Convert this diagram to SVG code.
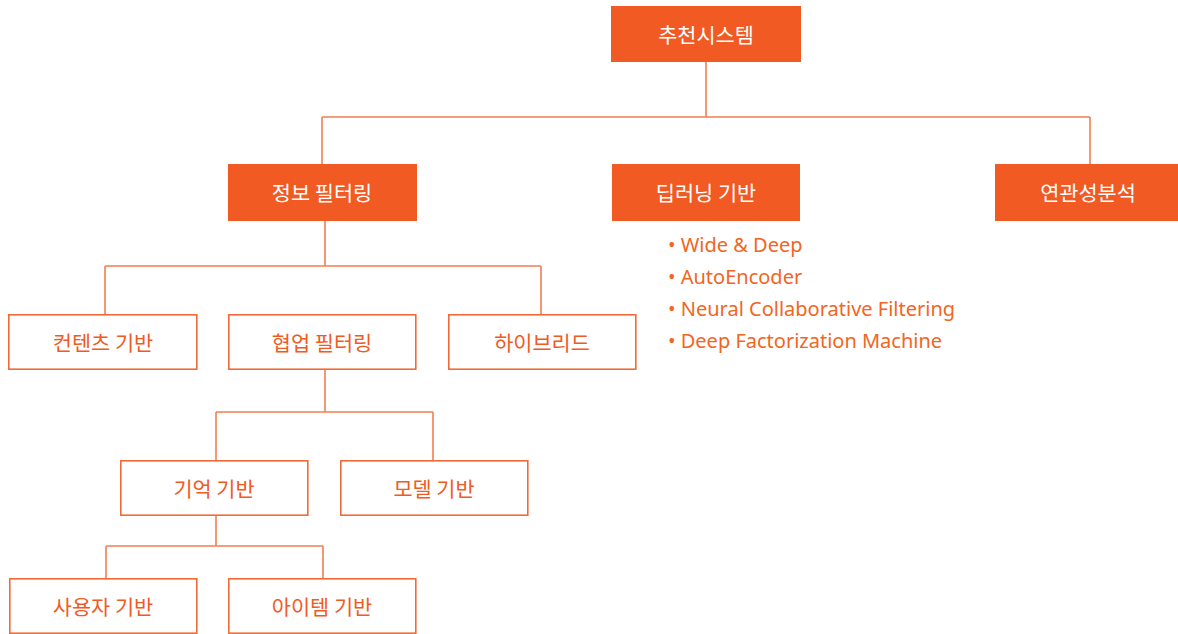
<svg xmlns="http://www.w3.org/2000/svg" width="1178" height="634" viewBox="0 0 1178 634">
  <style>
    .solid { fill: #F15A22; }
    .outline { fill: #FFFFFF; stroke: #F26A35; stroke-width: 1.6; }
    .lbl { font-family: "Noto Sans CJK KR", "Noto Sans", sans-serif; font-size: 20.8px; text-anchor: middle; dominant-baseline: central; }
    .w { fill: #FFFFFF; }
    .o { fill: #F15A22; }
    .conn { fill: none; stroke: #F47E52; stroke-width: 1.6; }
    .bul { font-family: "Noto Sans", "Liberation Sans", sans-serif; font-size: 20px; fill: #F26522; }
  </style>
  <rect width="1178" height="634" fill="#FFFFFF"/>

  <g id="connectors">
    <path class="conn" d="M706 62 V117 M322 117 H1090 M322 117 V164 M1090 117 V164"/>
    <path class="conn" d="M325 221 V266 M105 266 H541 M105 266 V314 M541 266 V314"/>
    <path class="conn" d="M325 369 V412 M216 412 H433 M216 412 V460 M433 412 V460"/>
    <path class="conn" d="M216 516 V546 M106 546 H323 M106 546 V578 M323 546 V578"/>
  </g>

  <g id="root">
    <rect class="solid" x="611" y="6" width="190" height="56"/>
    <text class="lbl w" x="706" y="34">추천시스템</text>
  </g>
  <g id="info-filtering">
    <rect class="solid" x="228" y="164" width="189" height="57"/>
    <text class="lbl w" x="322" y="192">정보 필터링</text>
  </g>
  <g id="deep-learning">
    <rect class="solid" x="612" y="164" width="188" height="57"/>
    <text class="lbl w" x="706" y="192">딥러닝 기반</text>
    <text class="bul" x="668" y="252">• Wide &amp; Deep</text>
    <text class="bul" x="668" y="284">• AutoEncoder</text>
    <text class="bul" x="668" y="316">• Neural Collaborative Filtering</text>
    <text class="bul" x="668" y="348">• Deep Factorization Machine</text>
  </g>
  <g id="association">
    <rect class="solid" x="995" y="164" width="183" height="57"/>
    <text class="lbl w" x="1088" y="192">연관성분석</text>
  </g>
  <g id="content-based">
    <rect class="outline" x="8.8" y="314.8" width="188" height="54.4"/>
    <text class="lbl o" x="103" y="342">컨텐츠 기반</text>
  </g>
  <g id="collaborative">
    <rect class="outline" x="228.8" y="314.8" width="187" height="54.4"/>
    <text class="lbl o" x="322" y="342">협업 필터링</text>
  </g>
  <g id="hybrid">
    <rect class="outline" x="448.8" y="314.8" width="187" height="54.4"/>
    <text class="lbl o" x="542" y="342">하이브리드</text>
  </g>
  <g id="memory-based">
    <rect class="outline" x="120.8" y="460.8" width="187" height="54.4"/>
    <text class="lbl o" x="214" y="488">기억 기반</text>
  </g>
  <g id="model-based">
    <rect class="outline" x="340.8" y="460.8" width="187" height="54.4"/>
    <text class="lbl o" x="434" y="488">모델 기반</text>
  </g>
  <g id="user-based">
    <rect class="outline" x="9.8" y="578.8" width="187" height="54.4"/>
    <text class="lbl o" x="103" y="606">사용자 기반</text>
  </g>
  <g id="item-based">
    <rect class="outline" x="228.8" y="578.8" width="187" height="54.4"/>
    <text class="lbl o" x="322" y="606">아이템 기반</text>
  </g>
</svg>
